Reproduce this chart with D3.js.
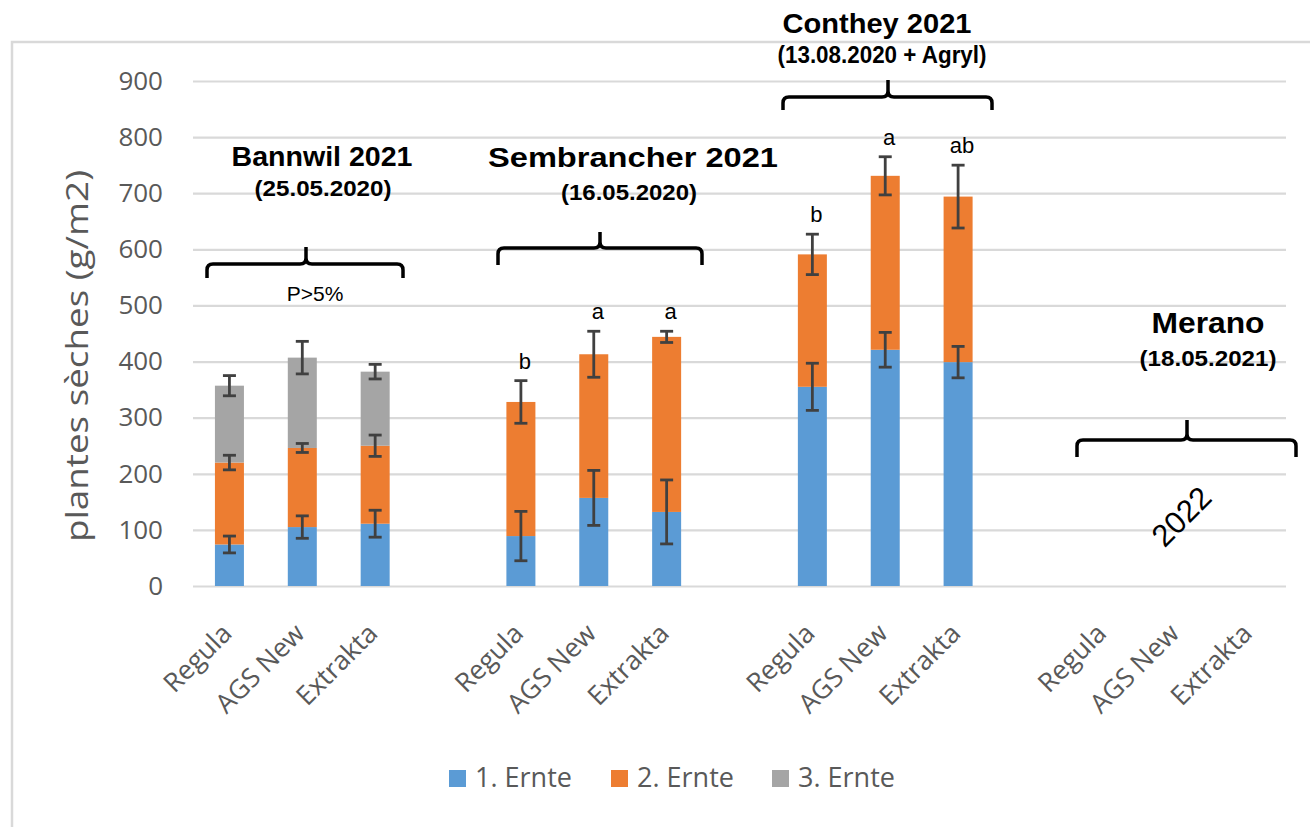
<!DOCTYPE html>
<html>
<head>
<meta charset="utf-8">
<script src="https://cdn.jsdelivr.net/npm/d3@7"></script>
<style>
  html, body { margin: 0; padding: 0; background: #fff; }
  svg { display: block; }
</style>
</head>
<body>
<svg id="chart" width="1310" height="827"></svg>
<script>
// Trial sites, sowing dates and varieties
const sites = ["Bannwil 2021", "Sembrancher 2021", "Conthey 2021", "Merano"];
const siteDates = ["(25.05.2020)", "(16.05.2020)", "(13.08.2020 + Agryl)", "(18.05.2021)"];
const varieties = ["Regula", "AGS New", "Extrakta"];
const seriesNames = ["1. Ernte", "2. Ernte", "3. Ernte"];

// Dry matter per harvest (g/m2), site by site in variety order; Merano follows in 2022
const harvest1 = [74, 105, 111, 89, 157, 132, 355, 421, 399, null, null, null];
const harvest2 = [146, 141, 139, 239, 256, 312, 236, 310, 295, null, null, null];
const harvest3 = [137, 161, 132, 0, 0, 0, 0, 0, 0, null, null, null];
const harvest1Err = [15, 20, 24, 44, 49, 57, 42, 31, 28, null, null, null];
const harvest2Err = [13, 8, 19, 38, 41, 10, 36, 34, 56, null, null, null];
const harvest3Err = [18, 29, 13, 0, 0, 0, 0, 0, 0, null, null, null];

// Significance letters per site (total yield) and site notes
const siteLetters = [null, ["b", "a", "a"], ["b", "a", "ab"], null];
const siteNotes = ["P>5%", null, null, "2022"];

const yTicks = [0, 100, 200, 300, 400, 500, 600, 700, 800, 900];

// ---------------------------------------------------------------------------
const colors = ["#5B9BD5", "#ED7D31", "#A5A5A5"];
const textGrey = "#595959";
const svg = d3.select("#chart");

// Frame around the chart area
svg.append("rect")
  .attr("x", 12).attr("y", 42).attr("width", 1400).attr("height", 900)
  .attr("fill", "none").attr("stroke", "#D9D9D9").attr("stroke-width", 2.5);

// Category slots: three varieties per site with an empty slot between sites
const slots = [];
sites.forEach((s, si) => {
  varieties.forEach(v => slots.push(si + "|" + v));
  if (si < sites.length - 1) slots.push("gap" + si);
});

const plotLeft = 193, plotRight = 1286;
const x = d3.scaleBand().domain(slots).range([plotLeft, plotRight])
  .paddingInner(0.602).paddingOuter(0.301);
const y = d3.scaleLinear().domain([0, 900]).range([586, 81]);

// Gridlines and y tick labels
const yAxis = svg.append("g")
  .attr("transform", `translate(${plotLeft},0)`)
  .call(d3.axisLeft(y).tickValues(yTicks).tickSize(-(plotRight - plotLeft)).tickPadding(30));
yAxis.select(".domain").remove();
yAxis.selectAll(".tick line").attr("stroke", "#D9D9D9").attr("stroke-width", 2.2);
yAxis.selectAll(".tick text")
  .attr("fill", textGrey)
  .style("font-family", "'Open Sans', sans-serif")
  .style("font-size", "26px");

// Y axis title
svg.append("text")
  .attr("transform", `translate(88,356) rotate(-90)`)
  .attr("text-anchor", "middle")
  .attr("textLength", 372).attr("lengthAdjust", "spacingAndGlyphs")
  .attr("fill", textGrey)
  .style("font-family", "'Open Sans', sans-serif")
  .style("font-size", "31px")
  .text("plantes sèches (g/m2)");

// Rows for stacking
const rows = [];
sites.forEach((s, si) => varieties.forEach((v, vi) => {
  const i = si * varieties.length + vi;
  rows.push({
    key: si + "|" + v, site: si, variety: vi,
    h1: harvest1[i], h2: harvest2[i], h3: harvest3[i],
    e1: harvest1Err[i], e2: harvest2Err[i], e3: harvest3Err[i]
  });
}));
const measured = rows.filter(r => r.h1 !== null);

const stack = d3.stack().keys(["h1", "h2", "h3"]);
const layers = stack(measured);

// Stacked bars
layers.forEach((layer, li) => {
  svg.append("g").selectAll("rect")
    .data(layer.filter(d => d[1] - d[0] > 0))
    .join("rect")
    .attr("x", d => x(d.data.key))
    .attr("width", x.bandwidth())
    .attr("y", d => y(d[1]))
    .attr("height", d => y(d[0]) - y(d[1]))
    .attr("fill", colors[li]);
});

// Error bars at the top of each segment
const errKeys = ["e1", "e2", "e3"];
const capHalf = 6.5;
layers.forEach((layer, li) => {
  const g = svg.append("g").attr("stroke", "#404040").attr("stroke-width", 2.8).attr("fill", "none");
  layer.filter(d => d[1] - d[0] > 0 && d.data[errKeys[li]] > 0).forEach(d => {
    const cx = x(d.data.key) + x.bandwidth() / 2;
    const top = y(d[1] + d.data[errKeys[li]]);
    const bot = y(d[1] - d.data[errKeys[li]]);
    g.append("line").attr("x1", cx).attr("x2", cx).attr("y1", top).attr("y2", bot);
    g.append("line").attr("x1", cx - capHalf).attr("x2", cx + capHalf).attr("y1", top).attr("y2", top);
    g.append("line").attr("x1", cx - capHalf).attr("x2", cx + capHalf).attr("y1", bot).attr("y2", bot);
  });
});

// Category labels
const xAxis = svg.append("g").attr("transform", `translate(0,${y(0)})`);
rows.forEach(r => {
  const cx = x(r.key) + x.bandwidth() / 2;
  xAxis.append("text")
    .attr("transform", `translate(${cx + 4},49) rotate(-45)`)
    .attr("text-anchor", "end")
    .attr("fill", textGrey)
    .style("font-family", "'Open Sans', sans-serif")
    .style("font-size", "26.5px")
    .text(varieties[r.variety]);
});

// Significance letters above the total error bar
measured.forEach(r => {
  const letters = siteLetters[r.site];
  if (!letters) return;
  const total = r.h1 + r.h2 + r.h3;
  const err = r.h3 > 0 ? r.e3 : r.e2;
  svg.append("text")
    .attr("x", x(r.key) + x.bandwidth() / 2 + 4)
    .attr("y", y(total + err) - 12)
    .attr("text-anchor", "middle")
    .style("font-family", "'Liberation Sans', Arial, sans-serif")
    .style("font-size", "22px")
    .text(letters[r.variety]);
});

// Site headings and braces
const siteLayout = [
  { title: [322, 166, 28, 181], date: [323, 196, 22, 137], brace: [207, 403, 264, 14, 306, 17] },
  { title: [633, 167, 27, 290], date: [629, 200, 22, 136], brace: [498, 702, 248, 17, 600, 16] },
  { title: [877, 33, 28, 189],  date: [882, 63, 23, 209],  brace: [783, 992, 97, 13, 888, 17] },
  { title: [1208, 333, 30, 113], date: [1208, 366, 22, 137], brace: [1077, 1296, 440, 17, 1187, 20] }
];

function bracePath(xl, xr, yl, drop, tip, rise) {
  const r = 6;
  return `M${xl},${yl + drop} L${xl},${yl + r} Q${xl},${yl} ${xl + r},${yl} L${tip - r},${yl}` +
    ` Q${tip},${yl} ${tip},${yl - r} L${tip},${yl - rise}` +
    ` M${tip},${yl - r} Q${tip},${yl} ${tip + r},${yl} L${xr - r},${yl} Q${xr},${yl} ${xr},${yl + r} L${xr},${yl + drop}`;
}

sites.forEach((s, si) => {
  const L = siteLayout[si];
  svg.append("text")
    .attr("x", L.title[0]).attr("y", L.title[1])
    .attr("text-anchor", "middle")
    .attr("textLength", L.title[3]).attr("lengthAdjust", "spacingAndGlyphs")
    .style("font-family", "'Liberation Sans', Arial, sans-serif")
    .style("font-weight", "bold")
    .style("font-size", L.title[2] + "px")
    .text(s);
  svg.append("text")
    .attr("x", L.date[0]).attr("y", L.date[1])
    .attr("text-anchor", "middle")
    .attr("textLength", L.date[3]).attr("lengthAdjust", "spacingAndGlyphs")
    .style("font-family", "'Liberation Sans', Arial, sans-serif")
    .style("font-weight", "bold")
    .style("font-size", L.date[2] + "px")
    .text(siteDates[si]);
  svg.append("path")
    .attr("d", bracePath(...L.brace))
    .attr("fill", "none").attr("stroke", "#000").attr("stroke-width", 3.5);
});

// Site notes
svg.append("text")
  .attr("x", 315).attr("y", 301)
  .attr("text-anchor", "middle")
  .style("font-family", "'Liberation Sans', Arial, sans-serif")
  .style("font-size", "21px")
  .text(siteNotes[0]);
svg.append("text")
  .attr("transform", "translate(1189,524) rotate(-45)")
  .attr("text-anchor", "middle")
  .style("font-family", "'Liberation Sans', Arial, sans-serif")
  .style("font-size", "31px")
  .text(siteNotes[3]);

// Legend
const legendX = [449, 611, 772];
const legend = svg.append("g");
seriesNames.forEach((n, i) => {
  legend.append("rect").attr("x", legendX[i]).attr("y", 770).attr("width", 17).attr("height", 17).attr("fill", colors[i]);
  legend.append("text")
    .attr("x", legendX[i] + 26).attr("y", 787)
    .attr("fill", textGrey)
    .style("font-family", "'Open Sans', sans-serif")
    .style("font-size", "27px")
    .text(n);
});
</script>
</body>
</html>
